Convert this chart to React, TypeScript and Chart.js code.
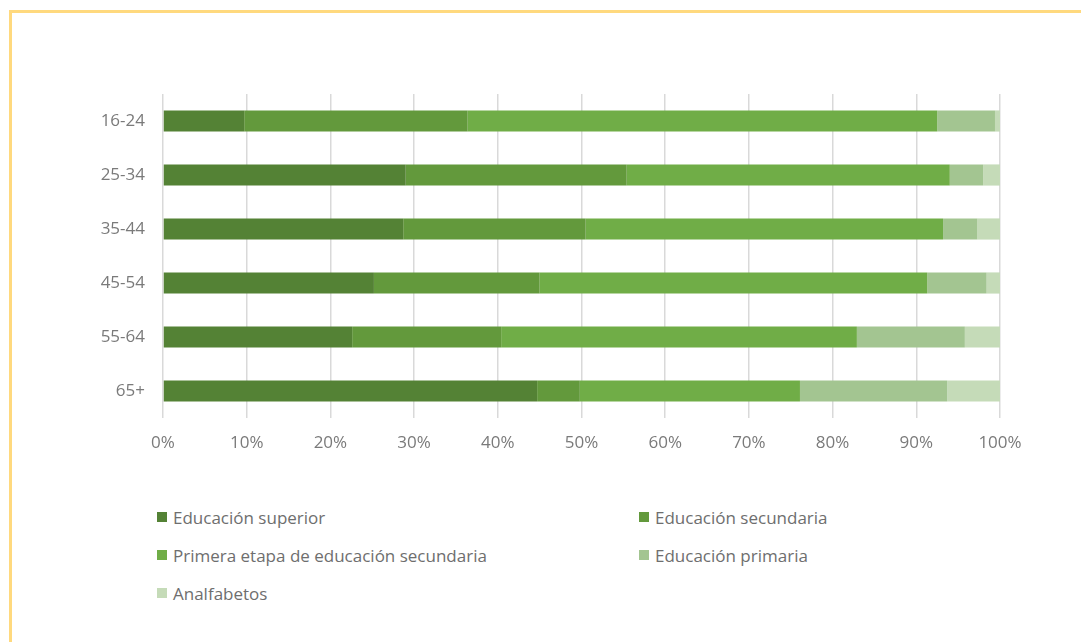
import React, { useEffect, useRef } from "react";
import { Chart, registerables } from "chart.js";

Chart.register(...registerables);

const categories = ["16-24", "25-34", "35-44", "45-54", "55-64", "65+"];
const superior = [9.7, 29.0, 28.7, 25.2, 22.6, 44.7];
const secundaria = [26.7, 26.4, 21.8, 19.8, 17.8, 5.1];
const primeraEtapa = [56.1, 38.6, 42.7, 46.3, 42.5, 26.3];
const primaria = [6.9, 4.0, 4.1, 7.1, 12.9, 17.6];
const analfabetos = [0.6, 2.0, 2.7, 1.6, 4.2, 6.3];

const seriesNames = [
  "Educación superior",
  "Educación secundaria",
  "Primera etapa de educación secundaria",
  "Educación primaria",
  "Analfabetos",
];
const seriesColors = ["#548235", "#63993c", "#70ad47", "#a3c591", "#c5dbb8"];
const xTicks = [0, 10, 20, 30, 40, 50, 60, 70, 80, 90, 100];

const FONT = "'Open Sans', 'Noto Sans', sans-serif";
const TEXT = "#7a7a7a";

export default function App() {
  const ref = useRef<HTMLCanvasElement | null>(null);

  useEffect(() => {
    document.body.style.margin = "0";
    const values = [superior, secundaria, primeraEtapa, primaria, analfabetos];
    const chart = new Chart(ref.current as HTMLCanvasElement, {
      type: "bar",
      data: {
        labels: categories,
        datasets: values.map((v, i) => ({
          label: seriesNames[i],
          data: v,
          backgroundColor: seriesColors[i],
          borderWidth: 0,
          barPercentage: 0.8,
          categoryPercentage: 0.49,
        })),
      },
      options: {
        indexAxis: "y",
        animation: false,
        responsive: false,
        maintainAspectRatio: false,
        layout: { padding: { top: 94, right: 81, left: 0, bottom: 0 } },
        plugins: { legend: { display: false }, tooltip: { enabled: false } },
        scales: {
          x: {
            stacked: true,
            min: 0,
            max: 100,
            afterBuildTicks: (scale: any) => {
              scale.ticks = xTicks.map((v) => ({ value: v }));
            },
            afterFit: (scale: any) => {
              scale.height = 470 - 418;
            },
            grid: { color: "#d9d9d9", lineWidth: 1.5, drawTicks: false },
            border: { display: false },
            ticks: {
              padding: 15,
              color: TEXT,
              font: { family: FONT, size: 17 },
              callback: (v: any) => v + "%",
            },
          },
          y: {
            stacked: true,
            afterFit: (scale: any) => {
              scale.width = 163;
            },
            grid: { display: false, drawTicks: false },
            border: { display: false },
            ticks: {
              padding: 18,
              color: TEXT,
              font: { family: FONT, size: 17 },
            },
          },
        },
      },
    });
    return () => chart.destroy();
  }, []);

  const legendPos = [
    { x: 157, y: 517 },
    { x: 639, y: 517 },
    { x: 157, y: 555 },
    { x: 639, y: 555 },
    { x: 157, y: 593 },
  ];

  return (
    <div style={{ position: "relative", width: 1081, height: 642, overflow: "hidden", background: "#fff" }}>
      <div
        style={{
          position: "absolute",
          left: 9,
          top: 10,
          width: 1200,
          height: 800,
          border: "3px solid #ffd97e",
          boxSizing: "border-box",
        }}
      />
      <canvas
        ref={ref}
        width={1081}
        height={470}
        style={{ position: "absolute", left: 0, top: 0, width: 1081, height: 470 }}
      />
      {seriesNames.map((name, i) => (
        <div
          key={name}
          style={{
            position: "absolute",
            left: legendPos[i].x,
            top: legendPos[i].y - 12,
            height: 24,
            display: "flex",
            alignItems: "center",
            fontFamily: FONT,
            fontSize: 17,
            color: "#6e6e6e",
            whiteSpace: "nowrap",
          }}
        >
          <span
            style={{
              display: "inline-block",
              width: 10,
              height: 10,
              background: seriesColors[i],
              marginRight: 6,
            }}
          />
          {name}
        </div>
      ))}
    </div>
  );
}
